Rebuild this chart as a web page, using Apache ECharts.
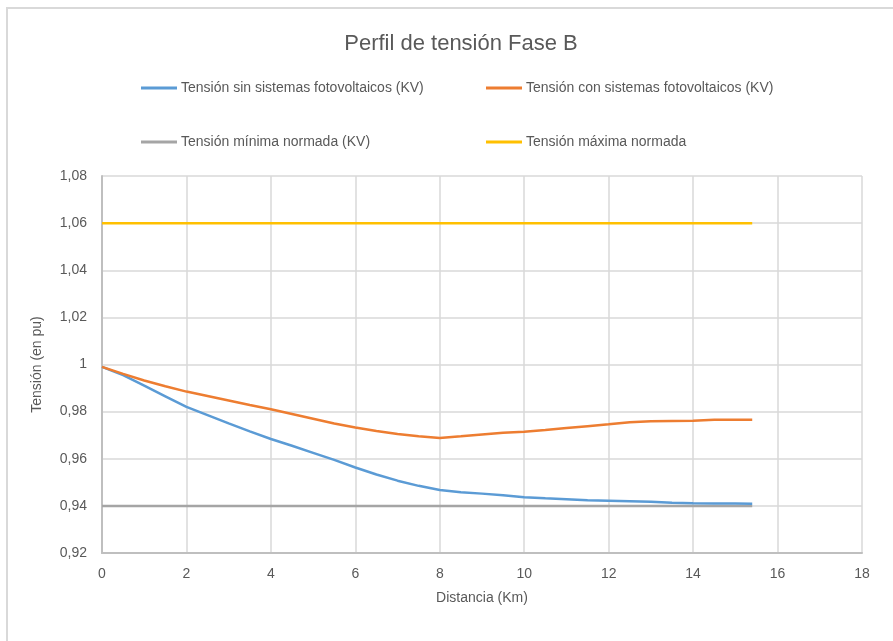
<!DOCTYPE html>
<html lang="es">
<head>
<meta charset="utf-8" />
<title>Perfil de tensión Fase B</title>
<style>
  html, body { margin: 0; padding: 0; background: #fff; }
  #chart { width: 893px; height: 641px; }
</style>
</head>
<body>
<div id="chart"></div>
<script src="https://cdn.jsdelivr.net/npm/echarts@6/dist/echarts.min.js"></script>
<script>
// distancia (km)
const distancia = [0, 0.5, 1, 1.5, 2, 2.5, 3, 3.5, 4, 4.5, 5, 5.5, 6, 6.5, 7, 7.5, 8,
  8.5, 9, 9.5, 10, 10.5, 11, 11.5, 12, 12.5, 13, 13.5, 14, 14.5, 15, 15.4];
// tensión sin sistemas fotovoltaicos
const sinFV = [0.999, 0.9955, 0.991, 0.9865, 0.982, 0.9785, 0.975, 0.9716, 0.9684, 0.9655, 0.9625,
  0.9595, 0.9563, 0.9533, 0.9507, 0.9485, 0.9467, 0.9458, 0.9452, 0.9445, 0.9437, 0.9432, 0.9428,
  0.9424, 0.9422, 0.942, 0.9417, 0.9413, 0.9411, 0.941, 0.941, 0.9409];
// tensión con sistemas fotovoltaicos
const conFV = [0.999, 0.996, 0.9932, 0.9908, 0.9885, 0.9866, 0.9847, 0.9828, 0.981, 0.979, 0.977,
  0.975, 0.9733, 0.9718, 0.9705, 0.9695, 0.9688, 0.9695, 0.9703, 0.971, 0.9715, 0.9722, 0.973,
  0.9738, 0.9746, 0.9755, 0.9759, 0.976, 0.9761, 0.9765, 0.9766, 0.9766];
// límites normados
const limiteX = [0, 15.4];
const tensionMin = [0.94, 0.94];
const tensionMax = [1.06, 1.06];

const nombres = [
  'Tensión sin sistemas fotovoltaicos (KV)',
  'Tensión con sistemas fotovoltaicos (KV)',
  'Tensión mínima normada (KV)',
  'Tensión máxima normada'
];
const colores = ['#5b9bd5', '#ed7d31', '#a5a5a5', '#ffc000'];

const pares = (xs, ys) => xs.map((x, i) => [x, ys[i]]);
const fuente = 'Liberation Sans';
const gris = '#595959';

const chart = echarts.init(document.getElementById('chart'));

// una leyenda por elemento, colocadas como en el original
const legendPos = [[141, 81], [486, 81], [141, 135], [486, 135]];
const legends = nombres.map((n, i) => ({
  data: [n],
  left: legendPos[i][0],
  top: legendPos[i][1],
  padding: 0,
  icon: 'rect',
  itemWidth: 36,
  itemHeight: 3,
  itemGap: 4,
  textStyle: { color: gris, fontSize: 14, fontFamily: fuente, padding: [0, 0, 0, -1] }
}));

const serieLinea = (i, data) => ({
  name: nombres[i],
  type: 'line',
  data: data,
  showSymbol: false,
  symbol: 'none',
  smooth: false,
  lineStyle: { color: colores[i], width: 2.5 },
  itemStyle: { color: colores[i] },
  z: i < 2 ? 3 : 2
});

chart.setOption({
  backgroundColor: '#fff',
  animation: false,
  title: {
    text: 'Perfil de tensión Fase B',
    left: 456,
    textAlign: 'center',
    top: 28,
    textStyle: { color: gris, fontSize: 22, fontWeight: 'normal', fontFamily: fuente }
  },
  legend: legends,
  graphic: [{
    type: 'rect',
    shape: { x: 7, y: 8, width: 1000, height: 1000 },
    style: { fill: 'none', stroke: '#d9d9d9', lineWidth: 2 },
    silent: true
  }],
  grid: { left: 102, right: 31, top: 176, bottom: 88 },
  xAxis: {
    type: 'value',
    min: 0, max: 18, interval: 2,
    name: 'Distancia (Km)',
    nameLocation: 'middle',
    nameGap: 38,
    nameTextStyle: { color: gris, fontSize: 14, fontFamily: fuente },
    axisLine: { show: true, onZero: false, lineStyle: { color: '#bfbfbf', width: 2 } },
    axisTick: { show: false },
    axisLabel: { color: gris, fontSize: 14, fontFamily: fuente, margin: 14 },
    splitLine: { show: true, lineStyle: { color: '#d9d9d9', width: 1.5 } }
  },
  yAxis: {
    type: 'value',
    min: 0.92, max: 1.08, interval: 0.02,
    name: 'Tensión (en pu)',
    nameLocation: 'middle',
    nameGap: 58,
    nameRotate: 90,
    nameTextStyle: { color: gris, fontSize: 14, fontFamily: fuente },
    axisLine: { show: true, onZero: false, lineStyle: { color: '#bfbfbf', width: 2 } },
    axisTick: { show: false },
    axisLabel: {
      color: gris, fontSize: 14, fontFamily: fuente, margin: 15,
      formatter: v => {
        const r = Math.round(v * 100) / 100;
        return r === 1 ? '1' : r.toFixed(2).replace('.', ',');
      }
    },
    splitLine: { show: true, lineStyle: { color: '#d9d9d9', width: 1.5 } }
  },
  series: [
    serieLinea(0, pares(distancia, sinFV)),
    serieLinea(1, pares(distancia, conFV)),
    serieLinea(2, pares(limiteX, tensionMin)),
    serieLinea(3, pares(limiteX, tensionMax))
  ]
});
</script>
</body>
</html>
